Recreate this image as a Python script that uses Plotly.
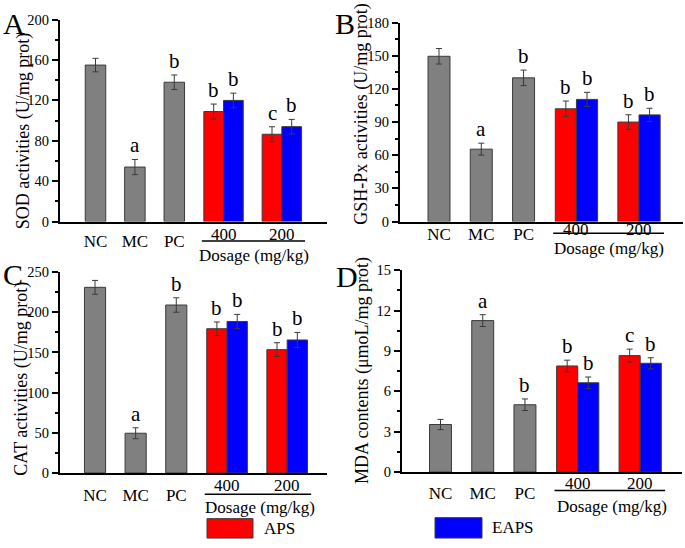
import plotly.graph_objects as go

# ---------------- data ----------------
groups = ["NC", "MC", "PC"]
doses = ["400", "200"]
series_names = ["APS", "EAPS"]

sod_ctrl = [155, 54, 138]
sod_ctrl_err = [6.7, 7.5, 7.2]
sod_aps = [109, 86.5]
sod_aps_err = [7.4, 7.4]
sod_eaps = [120, 94]
sod_eaps_err = [7.2, 7.2]
sod_ctrl_sig = ["", "a", "b"]
sod_aps_sig = ["b", "c"]
sod_eaps_sig = ["b", "b"]

gsh_ctrl = [149.5, 65.5, 130]
gsh_ctrl_err = [7, 5.4, 7]
gsh_aps = [102, 90]
gsh_aps_err = [7, 6.6]
gsh_eaps = [110.5, 96.5]
gsh_eaps_err = [6.4, 6]
gsh_ctrl_sig = ["", "a", "b"]
gsh_aps_sig = ["b", "b"]
gsh_eaps_sig = ["b", "b"]

cat_ctrl = [231, 49.5, 209]
cat_ctrl_err = [8.6, 6.8, 9]
cat_aps = [179.5, 153.5]
cat_aps_err = [8.4, 8.6]
cat_eaps = [188.5, 165.5]
cat_eaps_err = [8.8, 9.4]
cat_ctrl_sig = ["", "a", "b"]
cat_aps_sig = ["b", "b"]
cat_eaps_sig = ["b", "b"]

mda_ctrl = [3.53, 11.25, 5.0]
mda_ctrl_err = [0.38, 0.44, 0.43]
mda_aps = [7.88, 8.65]
mda_aps_err = [0.43, 0.48]
mda_eaps = [6.63, 8.08]
mda_eaps_err = [0.43, 0.41]
mda_ctrl_sig = ["", "a", "b"]
mda_aps_sig = ["b", "c"]
mda_eaps_sig = ["b", "b"]

# ---------------- layout constants ----------------
W, H = 685, 548
FONT = "Liberation Serif"
CTRL_POS = [1, 2, 3]
DOSE_POS = [4.25, 5.73]
HALF = 0.25
GRAY, RED, BLUE = "#808080", "#ff0000", "#0000ff"


def px(x):
    return x / W


def py(y):
    return 1 - y / H


panels = [
    dict(letter="A", title="SOD activities (U/mg prot)",
         ctrl=sod_ctrl, ctrl_err=sod_ctrl_err, aps=sod_aps, aps_err=sod_aps_err,
         eaps=sod_eaps, eaps_err=sod_eaps_err,
         ctrl_sig=sod_ctrl_sig, aps_sig=sod_aps_sig, eaps_sig=sod_eaps_sig,
         x0=60, x1=327, ybot=220, ytop=12, xr=[0.099, 6.876], yr=[0, 200], dt=40,
         lab=(14, 16), tit=(23, 127), nc_off=11, grp_off=13, line_off=20, dos_off=35, dos_x=5.02),
    dict(letter="B", title="GSH-Px activities (U/mg prot)",
         ctrl=gsh_ctrl, ctrl_err=gsh_ctrl_err, aps=gsh_aps, aps_err=gsh_aps_err,
         eaps=gsh_eaps, eaps_err=gsh_eaps_err,
         ctrl_sig=gsh_ctrl_sig, aps_sig=gsh_aps_sig, eaps_sig=gsh_eaps_sig,
         x0=400, x1=683, ybot=220, ytop=15, xr=[0.078, 6.77], yr=[0, 180], dt=30,
         lab=(345, 16), tit=(362, 110), nc_off=4, grp_off=8, line_off=12, dos_off=28, dos_x=5.02),
    dict(letter="C", title="CAT activities (U/mg prot)",
         ctrl=cat_ctrl, ctrl_err=cat_ctrl_err, aps=cat_aps, aps_err=cat_aps_err,
         eaps=cat_eaps, eaps_err=cat_eaps_err,
         ctrl_sig=cat_ctrl_sig, aps_sig=cat_aps_sig, eaps_sig=cat_eaps_sig,
         x0=60, x1=327, ybot=479, ytop=272, xr=[0.138, 6.71], yr=[0, 250], dt=50,
         lab=(13, 275), tit=(22, 382), nc_off=14, grp_off=13, line_off=22, dos_off=36, dos_x=5.06),
    dict(letter="D", title="MDA contents (μmoL/mg prot)",
         ctrl=mda_ctrl, ctrl_err=mda_ctrl_err, aps=mda_aps, aps_err=mda_aps_err,
         eaps=mda_eaps, eaps_err=mda_eaps_err,
         ctrl_sig=mda_ctrl_sig, aps_sig=mda_aps_sig, eaps_sig=mda_eaps_sig,
         x0=402, x1=682, ybot=478, ytop=270, xr=[0.088, 6.72], yr=[0, 15], dt=3,
         lab=(347, 277), tit=(362, 374), nc_off=13, grp_off=12, line_off=19, dos_off=35, dos_x=5.06),
]

fig = go.Figure()
annotations = []
shapes = []


def err(arr):
    return dict(type="data", array=arr, visible=True, color="#3a3a3a",
                thickness=1, width=3)


for i, p in enumerate(panels):
    n = "" if i == 0 else str(i + 1)
    xa, ya = "x" + n, "y" + n
    aps_x = [d - HALF for d in DOSE_POS]
    eaps_x = [d + HALF for d in DOSE_POS]
    fig.add_trace(go.Bar(x=CTRL_POS, y=p["ctrl"], width=0.52, error_y=err(p["ctrl_err"]),
                         marker=dict(color=GRAY, line=dict(color="#3a3a3a", width=1)),
                         xaxis=xa, yaxis=ya, showlegend=False, name="Control"))
    fig.add_trace(go.Bar(x=aps_x, y=p["aps"], width=0.5, error_y=err(p["aps_err"]),
                         marker=dict(color=RED, line=dict(color="#3a3a3a", width=1)),
                         xaxis=xa, yaxis=ya, showlegend=False, name=series_names[0]))
    fig.add_trace(go.Bar(x=eaps_x, y=p["eaps"], width=0.5, error_y=err(p["eaps_err"]),
                         marker=dict(color=BLUE, line=dict(color="#3a3a3a", width=1)),
                         xaxis=xa, yaxis=ya, showlegend=False, name=series_names[1]))

    axis_common = dict(showline=True, linecolor="black", linewidth=2, mirror=False,
                       showgrid=False, zeroline=False)
    fig.update_layout(**{
        ("xaxis" + n): dict(domain=[px(p["x0"]), px(p["x1"])], range=p["xr"],
                            anchor=ya, tickvals=CTRL_POS, ticktext=groups, ticks="",
                            tickfont=dict(family=FONT, size=17, color="black"),
                            ticklabelstandoff=p["nc_off"] - 8, **axis_common),
        ("yaxis" + n): dict(domain=[py(p["ybot"]), py(p["ytop"])], range=p["yr"],
                            anchor=xa, dtick=p["dt"], tick0=0, ticks="outside",
                            ticklen=6, tickwidth=1.5, tickcolor="black",
                            minor=dict(dtick=p["dt"] / 2, ticks="outside", ticklen=3,
                                       tickwidth=1.5, tickcolor="black"),
                            tickfont=dict(family=FONT, size=14.5, color="black"),
                            **axis_common),
    })

    # significance letters
    for xs, vals, errs, sig in [(CTRL_POS, p["ctrl"], p["ctrl_err"], p["ctrl_sig"]),
                                (aps_x, p["aps"], p["aps_err"], p["aps_sig"]),
                                (eaps_x, p["eaps"], p["eaps_err"], p["eaps_sig"])]:
        for xv, v, e, s in zip(xs, vals, errs, sig):
            if s:
                annotations.append(dict(x=xv, y=v + e, xref=xa, yref=ya, text=s,
                                        showarrow=False, yanchor="bottom", yshift=0,
                                        font=dict(family=FONT, size=21, color="black")))
    # dose group labels
    for d, lbl in zip(DOSE_POS, doses):
        annotations.append(dict(x=d, y=py(p["ybot"] + p["grp_off"]), xref=xa, yref="paper",
                                text=lbl, showarrow=False, yanchor="middle",
                                font=dict(family=FONT, size=17, color="black")))
    annotations.append(dict(x=p["dos_x"], y=py(p["ybot"] + p["dos_off"]), xref=xa, yref="paper",
                            text="Dosage (mg/kg)", showarrow=False, yanchor="middle",
                            font=dict(family=FONT, size=17, color="black")))
    shapes.append(dict(type="line", xref=xa, yref="paper", x0=3.7, x1=6.32,
                       y0=py(p["ybot"] + p["line_off"]), y1=py(p["ybot"] + p["line_off"]),
                       line=dict(color="black", width=1.5)))
    # panel letter
    annotations.append(dict(x=px(p["lab"][0]), y=py(p["lab"][1]), xref="paper", yref="paper",
                            text=p["letter"], showarrow=False, xanchor="center", yanchor="middle",
                            font=dict(family=FONT, size=30, color="black")))
    # y title
    annotations.append(dict(x=px(p["tit"][0]), y=py(p["tit"][1]), xref="paper", yref="paper",
                            text=p["title"], textangle=-90, showarrow=False,
                            xanchor="center", yanchor="middle",
                            font=dict(family=FONT, size=18, color="black")))

# legend (drawn)
for (bx0, bx1, by0, by1, tx, col, name) in [(207, 253, 526, 546, 262, RED, series_names[0]),
                                             (435, 482, 525, 546, 490, BLUE, series_names[1])]:
    shapes.append(dict(type="rect", xref="paper", yref="paper", x0=px(bx0), x1=px(bx1),
                       y0=py(by1), y1=py(by0), fillcolor=col,
                       line=dict(color="#3a3a3a", width=1)))
    annotations.append(dict(x=px(tx), y=py((by0 + by1) / 2), xref="paper", yref="paper",
                            text=name, showarrow=False, xanchor="left", yanchor="middle",
                            font=dict(family=FONT, size=17, color="black")))

fig.update_layout(width=W, height=H, margin=dict(l=0, r=0, t=0, b=0),
                  paper_bgcolor="white", plot_bgcolor="white", barmode="overlay",
                  annotations=annotations, shapes=shapes, showlegend=False,
                  font=dict(family=FONT, color="black"))

fig.write_html("out.html", config={"displayModeBar": False},
               post_script="document.body.style.margin='0';")
